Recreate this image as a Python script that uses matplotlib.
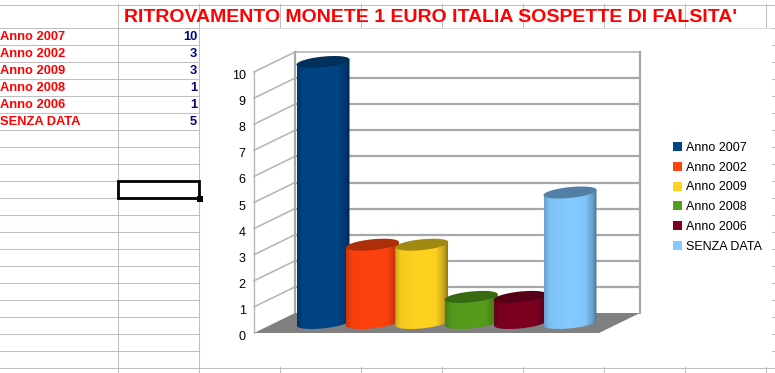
import matplotlib
matplotlib.use('Agg')
import matplotlib.pyplot as plt
import numpy as np
from matplotlib.patches import Patch, Polygon, Rectangle

categories = ['Anno 2007', 'Anno 2002', 'Anno 2009', 'Anno 2008', 'Anno 2006', 'SENZA DATA']
values = [10, 3, 3, 1, 1, 5]
colors = ['#004586', '#ff420e', '#ffd320', '#579d1c', '#7e0021', '#83caff']
cap_colors = ['#00305c', '#ab3009', '#a08a12', '#386a12', '#560018', '#517fa6']
title = "RITROVAMENTO MONETE 1 EURO ITALIA SOSPETTE DI FALSITA'"
y_ticks = list(range(0, 11))

W, H = 775, 373
UNIT = 26.1       # pixels for one value unit
STEP = 49.4       # pixels between two cylinders
GRID = '#c0c0c0'
WALL = '#a8a8a8'

plt.rcParams['font.family'] = ['Liberation Sans', 'DejaVu Sans']

fig = plt.figure(figsize=(W / 100, H / 100), dpi=100)


def px_axes(left, top, right, bottom, zorder):
    a = fig.add_axes([left / W, 1 - bottom / H, (right - left) / W, (bottom - top) / H], zorder=zorder)
    a.patch.set_visible(False)
    return a


# Sheet layer, in screen pixels
sheet = fig.add_axes([0, 0, 1, 1], zorder=0)
sheet.set_xlim(0, W)
sheet.set_ylim(H, 0)
sheet.axis('off')

for y in range(27, 351, 17):
    sheet.plot([0, 198.5], [y + 0.5, y + 0.5], color=GRID, lw=0.75)
for y in (4.5, 367.5):
    sheet.plot([0, W], [y, y], color=GRID, lw=0.75)
sheet.plot([198, W], [27.5, 27.5], color='#dcdcdc', lw=0.75)
for x in (117.5, 198.5):
    sheet.plot([x, x], [4, H], color=GRID, lw=0.75)
for x in (279.5, 360.5, 441.5, 522.5, 603.5, 684.5, 765.5):
    sheet.plot([x, x], [4, 27], color=GRID, lw=0.75)
    sheet.plot([x, x], [367, H], color=GRID, lw=0.75)
for y in range(27, 351, 17):
    sheet.plot([772, W], [y + 0.5, y + 0.5], color=GRID, lw=0.75)

sheet.text(431, 18, title, color='#ff0000', fontsize=14, fontweight='bold', ha='center', va='center', zorder=4)

for i, (cat, val) in enumerate(zip(categories, values)):
    row_y = 37 + 17 * i
    sheet.text(0.5, row_y, cat, color='#ff0000', fontsize=9.3, fontweight='bold', va='center')
    sheet.text(197, row_y, str(val), color='#000080', fontsize=9.3, fontweight='bold', va='center', ha='right')

# Selected cell
sheet.add_patch(Rectangle((117.5, 180.5), 81, 17, fill=False, ec='black', lw=2.0, zorder=5))
sheet.add_patch(Rectangle((197, 196), 6, 6, fc='black', ec='none', zorder=5))

# Chart walls and floor
front_x, back_x, right_x = 254, 295, 640
front_y, back_y = 333, 313
top_y = back_y - UNIT * max(y_ticks)
sheet.add_patch(Polygon([(front_x, front_y), (back_x, back_y), (right_x, back_y), (right_x - 41, front_y)],
                        fc='#808080', ec='none', zorder=3))
for t in y_ticks[1:]:
    dy = UNIT * t
    sheet.plot([front_x, back_x], [front_y - dy, back_y - dy], color='#b8b8b8', lw=1.2, zorder=2)
    if t < max(y_ticks):
        sheet.plot([back_x, right_x], [back_y - dy, back_y - dy], color=WALL, lw=1.6, zorder=2)
sheet.plot([back_x, right_x], [top_y, top_y], color='#b0b0b0', lw=1.1, zorder=2)
sheet.plot([back_x, back_x], [top_y, back_y], color=WALL, lw=1.6, zorder=2)
sheet.plot([right_x, right_x], [top_y, back_y], color=WALL, lw=1.6, zorder=2)
sheet.plot([front_x, front_x], [front_y - UNIT * 10, front_y], color='#b8b8b8', lw=1.0, zorder=2)

# Front plane, carries the value axis (labels sit a little under their lines)
label_drop = 2.5
val_ax = px_axes(front_x, front_y - UNIT * 10 + label_drop, right_x - 41, front_y + label_drop, 1)
val_ax.set_ylim(0, 10)
val_ax.set_xticks([])
val_ax.set_yticks(y_ticks)
val_ax.tick_params(axis='y', length=0, pad=6, labelsize=9, labelcolor='black')
for s in val_ax.spines.values():
    s.set_visible(False)

# Cylinders, x in category positions and y in chart values
bar_ax = px_axes(323 - STEP, 323 - UNIT * 11, 323 + 6 * STEP, 323 + UNIT, 2)
bar_ax.axis('off')

half = 26.5 / STEP
cap_h = 5.4 / UNIT
tilt = 2.6 / UNIT
t = np.linspace(0, 2 * np.pi, 120)
arc = np.linspace(np.pi, 2 * np.pi, 60)
stops = [0, 0.1, 0.5, 0.78, 0.92, 1]
shade = [0.8, 0.96, 1.0, 0.98, 0.8, 0.58]

for i, (val, col, cap) in enumerate(zip(values, colors, cap_colors)):
    rgb = np.array(matplotlib.colors.to_rgb(col))
    f = np.interp(np.linspace(0, 1, 64), stops, shade)
    img = (f[:, None] * rgb)[None, :, :]
    # lower half of the base ellipse, then straight up to the cap
    outline = np.column_stack([i + half * np.cos(arc), cap_h * np.sin(arc) + tilt * np.cos(arc)])
    outline = np.vstack([outline, [[i + half, val + tilt]], [[i - half, val - tilt]]])
    im = bar_ax.imshow(img, extent=[i - half, i + half, -1, val + 1], aspect='auto',
                       interpolation='bilinear', zorder=10 + 2 * i)
    im.set_clip_path(Polygon(outline, closed=True, transform=bar_ax.transData))
    ex = i + half * np.cos(t)
    ey = val + cap_h * np.sin(t) + tilt * np.cos(t)
    bar_ax.fill(ex, ey, color=cap, lw=0, zorder=11 + 2 * i)
bar_ax.set_xlim(-1, 6)
bar_ax.set_ylim(-1, 11)

# Legend
handles = [Patch(fc=c, ec='none', label=n) for n, c in zip(categories, colors)]
fig.legend(handles=handles, loc='upper left', bbox_to_anchor=(673 / W, 1 - 142 / H), frameon=False,
           fontsize=9, handlelength=0.72, handleheight=0.72, handletextpad=0.35, labelspacing=0.62,
           borderpad=0, borderaxespad=0)

fig.savefig('out.png', dpi=100)
